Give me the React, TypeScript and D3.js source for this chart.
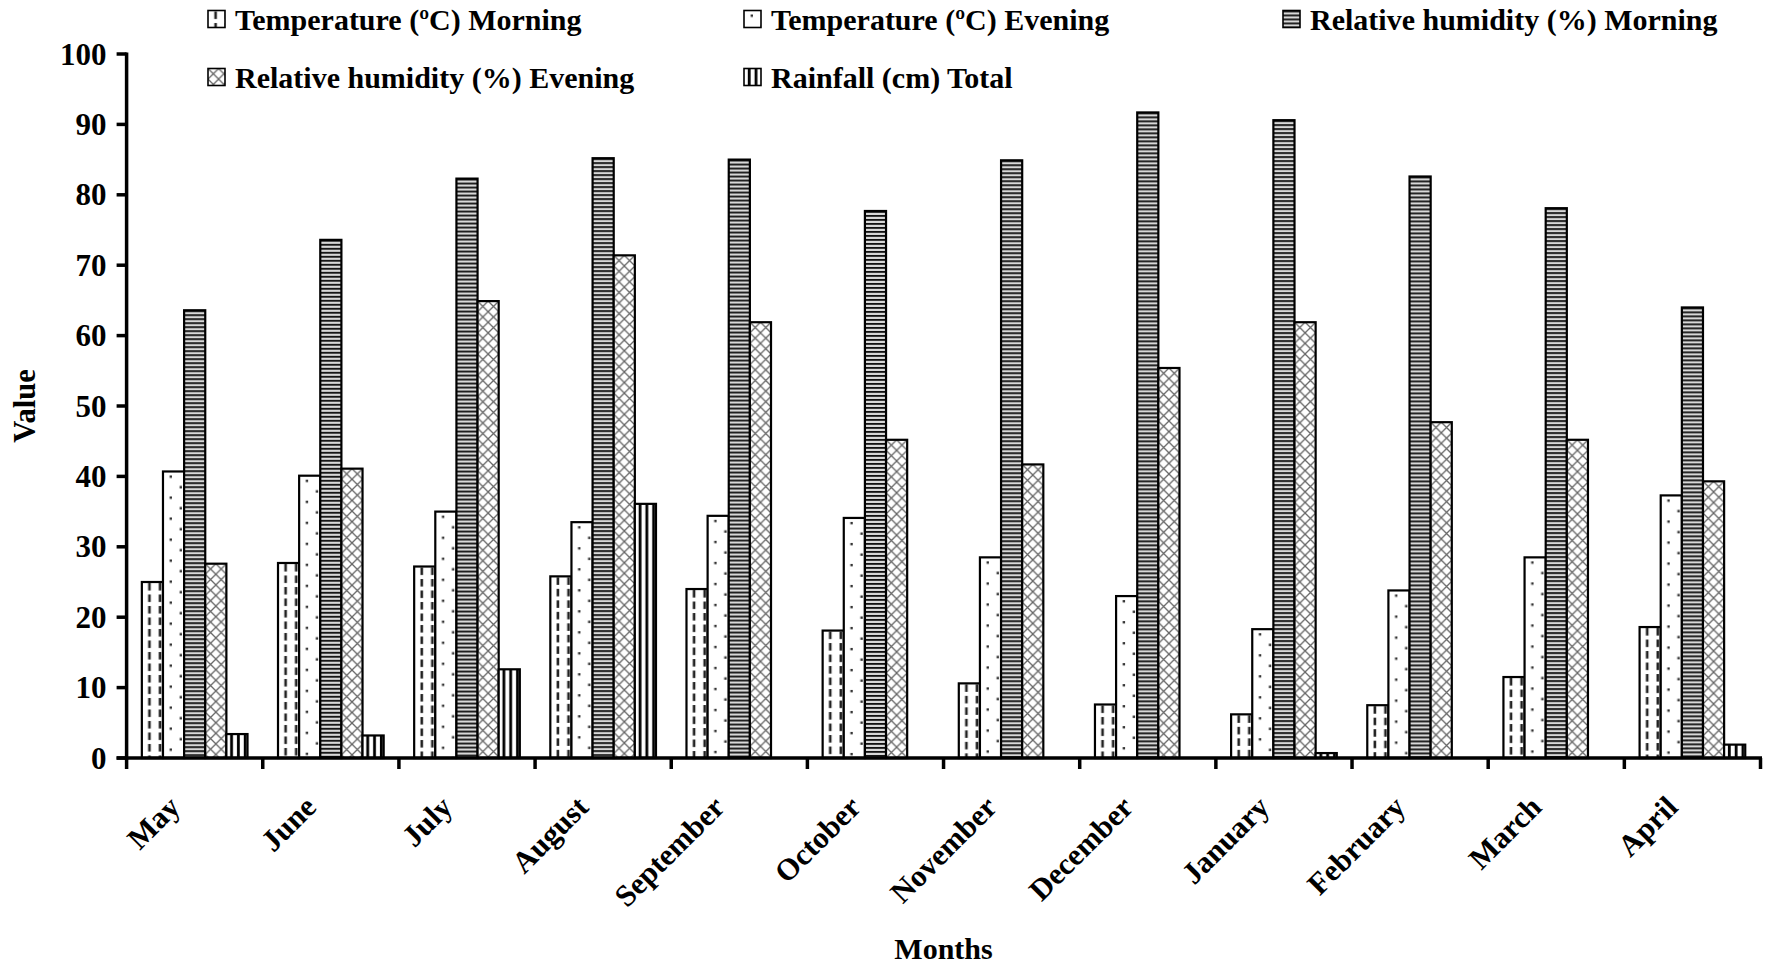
import React from 'react';
import * as d3 from 'd3';

const months = ['May', 'June', 'July', 'August', 'September', 'October', 'November', 'December', 'January', 'February', 'March', 'April'];
const tempMorning = [25.0, 27.7, 27.2, 25.8, 24.0, 18.1, 10.6, 7.6, 6.2, 7.5, 11.5, 18.6];
const tempEvening = [40.7, 40.1, 35.0, 33.5, 34.4, 34.1, 28.5, 23.0, 18.3, 23.8, 28.5, 37.3];
const rhMorning = [63.6, 73.6, 82.3, 85.2, 85.0, 77.7, 84.9, 91.7, 90.6, 82.6, 78.1, 64.0];
const rhEvening = [27.6, 41.1, 64.9, 71.4, 61.9, 45.2, 41.7, 55.4, 61.9, 47.7, 45.2, 39.3];
const rainfall = [3.4, 3.2, 12.6, 36.1, 0, 0, 0, 0, 0.7, 0, 0, 1.9];
const seriesNames = [
  'Temperature (ºC) Morning',
  'Temperature (ºC) Evening',
  'Relative humidity (%) Morning',
  'Relative humidity (%) Evening',
  'Rainfall (cm) Total',
];
const seriesValues = [tempMorning, tempEvening, rhMorning, rhEvening, rainfall];
const yTicks = [0, 10, 20, 30, 40, 50, 60, 70, 80, 90, 100];

const W = 1773;
const H = 964;
const left = 126.6;
const right = 1760.5;
const top = 54;
const bottom = 758;
const FONT = "'Liberation Serif', 'Times New Roman', serif";
const patIds = ['pTM', 'pTE', 'pRHM', 'pRHE', 'pRain'];

export default function App() {
  const x0 = d3.scaleBand<string>().domain(months).range([left, right]).padding(0);
  const gw = x0.bandwidth();
  const x1 = d3
    .scaleBand<string>()
    .domain(seriesNames)
    .range([gw * 0.112, gw * 0.888])
    .padding(0);
  const y = d3.scaleLinear().domain([0, 100]).range([bottom, top]);

  const legendItems = [
    { i: 0, x: 208, y: 19 },
    { i: 1, x: 744, y: 19 },
    { i: 2, x: 1283, y: 19 },
    { i: 3, x: 208, y: 77 },
    { i: 4, x: 744, y: 77 },
  ];

  const boundaries = months.map((m) => x0(m) as number).concat([right]);

  return (
    <svg
      width={W}
      height={H}
      viewBox={`0 0 ${W} ${H}`}
      style={{ position: 'absolute', left: 0, top: 0, background: '#fff' }}
      fontFamily={FONT}
      fontWeight="bold"
    >
      <defs>
        <pattern id="pTM" patternUnits="userSpaceOnUse" width={10.6} height={11.5}>
          <rect width={10.6} height={11.5} fill="#fff" />
          <rect x={6.3} y={1} width={2.6} height={7.5} fill="#222" />
        </pattern>
        <pattern id="pTE" patternUnits="userSpaceOnUse" width={20} height={21}>
          <rect width={20} height={21} fill="#fff" />
          <rect x={6.6} y={4} width={2.4} height={2.4} fill="#333" />
          <rect x={16.6} y={14.5} width={2.4} height={2.4} fill="#333" />
        </pattern>
        <pattern id="pRHM" patternUnits="userSpaceOnUse" width={8} height={4}>
          <rect width={8} height={4} fill="#d8d8d8" />
          <rect y={0} width={8} height={1.8} fill="#111" />
        </pattern>
        <pattern id="pRHE" patternUnits="userSpaceOnUse" width={10.6} height={10.6}>
          <rect width={10.6} height={10.6} fill="#fff" />
          <path d="M0,0 L10.6,10.6 M10.6,0 L0,10.6" stroke="#666" strokeWidth={1.3} />
        </pattern>
        <pattern id="pRain" patternUnits="userSpaceOnUse" width={6.8} height={10}>
          <rect width={6.8} height={10} fill="#fff" />
          <rect x={3.8} width={2.8} height={10} fill="#000" />
        </pattern>
      </defs>

      {/* Bars */}
      {months.map((m, mi) =>
        seriesNames.map((s, si) => {
          const v = seriesValues[si][mi];
          if (!v) return null;
          const bx = (x0(m) as number) + (x1(s) as number);
          const by = y(v);
          return (
            <g key={m + s} transform={`translate(${bx},${by})`}>
              <rect
                x={0}
                y={0}
                width={x1.bandwidth()}
                height={bottom - by}
                fill={`url(#${patIds[si]})`}
                stroke="#000"
                strokeWidth={2.2}
              />
            </g>
          );
        })
      )}

      {/* Y axis */}
      <line x1={left} x2={left} y1={top - 1.5} y2={bottom + 1.5} stroke="#000" strokeWidth={3.5} />
      {yTicks.map((t) => (
        <g key={t}>
          <line x1={left - 10} x2={left} y1={y(t)} y2={y(t)} stroke="#000" strokeWidth={3.5} />
          <text x={left - 20} y={y(t)} textAnchor="end" dominantBaseline="central" fontSize={31}>
            {t}
          </text>
        </g>
      ))}

      {/* X axis */}
      <line x1={left - 10} x2={right + 1.5} y1={bottom} y2={bottom} stroke="#000" strokeWidth={3.5} />
      {boundaries.map((bx, i) => (
        <line key={i} x1={bx} x2={bx} y1={bottom} y2={bottom + 11} stroke="#000" strokeWidth={3.5} />
      ))}
      {months.map((m) => {
        const cx = (x0(m) as number) + gw / 2 - 13;
        const cy = 809;
        return (
          <text
            key={m}
            x={cx}
            y={cy}
            textAnchor="end"
            fontSize={30.5}
            transform={`rotate(-45 ${cx} ${cy})`}
          >
            {m}
          </text>
        );
      })}

      {/* Axis titles */}
      <text x={(left + right) / 2} y={948} textAnchor="middle" dominantBaseline="central" fontSize={30}>
        Months
      </text>
      <text
        x={25}
        y={(top + bottom) / 2}
        textAnchor="middle"
        dominantBaseline="central"
        fontSize={30.5}
        transform={`rotate(-90 25 ${(top + bottom) / 2})`}
      >
        Value
      </text>

      {/* Legend */}
      {legendItems.map((it) => (
        <g key={it.i} transform={`translate(${it.x},${it.y - 8.5})`}>
          <rect
            x={0}
            y={0}
            width={17}
            height={17}
            fill={`url(#${patIds[it.i]})`}
            stroke="#000"
            strokeWidth={1.6}
          />
          <text x={27} y={8.5} dominantBaseline="central" fontSize={30}>
            {seriesNames[it.i]}
          </text>
        </g>
      ))}
    </svg>
  );
}
